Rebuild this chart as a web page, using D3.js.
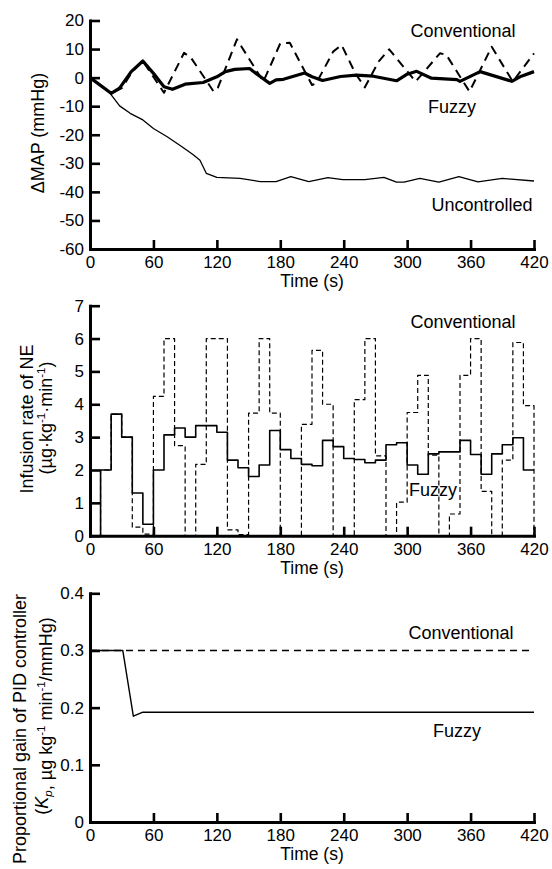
<!DOCTYPE html>
<html>
<head>
<meta charset="utf-8">
<script src="https://cdn.jsdelivr.net/npm/d3@7"></script>
<style>
    body { margin: 0; background: #fff; }
    svg { display: block; }
    text { font-family: "Liberation Sans", Arial, sans-serif; fill: #000; }
</style>
</head>
<body>
<div id="chart"></div>
<script>
/*
Three stacked panels: MAP change, NE infusion rate, proportional gain
*/

// panel 1: change of mean arterial pressure (mmHg)
var mapConvTime = [0, 20, 30, 40, 50, 70, 89, 96, 117, 121, 139, 164, 180, 189, 210, 214,
                   230, 238, 251, 260, 273, 283, 308, 331, 337, 359, 380, 400, 420];
var mapConvValue = [0, -5.5, -3.7, 2.1, 5.8, -5.3, 8.7, 6.7, -4.9, -3.5, 13.4, -1.4, 12, 12.2, -2.6, -2,
                    9.1, 11.4, 1.5, -3.4, 5.6, 9.9, -1.4, 8.5, 8, -4.9, 10.8, -1.4, 8.5];

var mapFuzzyTime = [0, 20, 28, 39, 50, 60, 70, 78, 90, 107, 120, 128, 137, 151, 159, 170, 176,
                    183, 203, 210, 220, 237, 252, 268, 290, 300, 309, 323, 347, 350, 369, 399, 408, 420];
var mapFuzzyValue = [0, -5.5, -3.7, 2.1, 5.8, 1.5, -3.2, -4.1, -2.3, -1.7, 0.3, 2.1, 2.9, 3.2, 0.9, -2.0, -0.8,
                     -0.6, 1.6, 0.3, -1.0, 0.4, 0.9, 0.5, -1.1, 1.2, 2.2, -0.2, -0.7, -1.3, 2.1, -1.3, 0.5, 2.1];

var mapUncTime = [0, 19, 28, 38, 50, 60, 73, 87, 98, 104, 110, 120, 142, 161, 176, 190, 207,
                  225, 239, 260, 278, 290, 297, 312, 330, 349, 367, 390, 420];
var mapUncValue = [0, -5.5, -9.9, -12.5, -14.8, -17.8, -20.7, -24.2, -27.1, -28.9, -33.5, -34.9, -35.3, -36.4, -36.4, -34.7, -36.4,
                   -35, -35.7, -35.7, -34.9, -36.6, -36.6, -35.3, -36.6, -34.7, -36.5, -35.3, -36.2];

// panel 2: infusion rate of NE, one value per 10 s step (last entry closes the step)
var stepTime = [0, 10, 20, 30, 40, 50, 60, 70, 80, 90, 100, 110, 120, 130, 140, 150, 160, 170, 180, 190, 200,
                210, 220, 230, 240, 250, 260, 270, 280, 290, 300, 310, 320, 330, 340, 350, 360, 370, 380, 390, 400, 410, 420];
var infConv = [0, 2.0, 3.7, 3.0, 0.26, 0.05, 4.24, 6.0, 2.74, 0, 2.17, 6.0, 6.0, 0.18, 0.03, 3.73, 6.0, 3.73, 0, 0, 3.39,
               5.64, 4.0, 0, 0, 4.14, 6.0, 2.43, 0, 1.02, 3.75, 4.88, 2.45, 0, 0.66, 4.88, 6.0, 1.35, 0, 2.3, 5.88, 3.96, 0];
var infFuzzy = [0, 2.0, 3.7, 3.0, 1.3, 0.35, 2.0, 3.07, 3.28, 3.0, 3.35, 3.35, 3.15, 2.3, 2.07, 1.8, 2.15, 3.2, 2.62, 2.35, 2.17,
                2.13, 2.9, 2.71, 2.35, 2.32, 2.22, 2.3, 2.77, 2.83, 2.15, 1.87, 2.49, 2.55, 2.55, 2.9, 2.47, 1.87, 2.49, 2.77, 2.98, 2.0, 2.0];

// panel 3: proportional gain Kp
var kpConvTime = [0, 420];
var kpConvValue = [0.3, 0.3];
var kpFuzzyTime = [0, 31, 41, 50, 420];
var kpFuzzyValue = [0.3, 0.3, 0.185, 0.192, 0.192];

var timeTicks = [0, 60, 120, 180, 240, 300, 360, 420];
var mapTicks = [-60, -50, -40, -30, -20, -10, 0, 10, 20];
var infTicks = [0, 1, 2, 3, 4, 5, 6, 7];
var kpTicks = [0, 0.1, 0.2, 0.3, 0.4];

var W = 552, H = 869;
var svg = d3.select('#chart').append('svg')
    .attr('width', W)
    .attr('height', H);

var x = d3.scaleLinear().domain([0, 420]).range([90, 534]);

function zip(ts, vs) {
    return ts.map(function(t, i) { return [t, vs[i]]; });
}

function drawPanel(opt) {
    var y = d3.scaleLinear().domain(opt.domain).range(opt.range);
    var g = svg.append('g');

    // series
    opt.series.forEach(function(s) {
        var line = d3.line()
            .x(function(d) { return x(d[0]); })
            .y(function(d) { return y(d[1]); })
            .curve(s.step ? d3.curveStepAfter : d3.curveLinear);
        g.append('path')
            .attr('d', line(zip(s.t, s.v)))
            .attr('fill', 'none')
            .attr('stroke', '#000')
            .attr('stroke-width', s.width)
            .attr('stroke-linejoin', 'round')
            .attr('stroke-dasharray', s.dash || null);
    });

    // axes (ticks point inward)
    var yAxis = g.append('g')
        .attr('transform', 'translate(90,0)')
        .call(d3.axisLeft(y).tickValues(opt.ticks).tickFormat(opt.format)
            .tickSizeInner(-10).tickSizeOuter(0).tickPadding(6));
    var xAxis = g.append('g')
        .attr('transform', 'translate(0,' + opt.range[0] + ')')
        .call(d3.axisBottom(x).tickValues(timeTicks).tickFormat(d3.format('d'))
            .tickSizeInner(-9).tickSizeOuter(0).tickPadding(7));

    [yAxis, xAxis].forEach(function(a) {
        a.select('.domain').attr('stroke-width', 3).attr('stroke-linecap', 'square');
        a.selectAll('.tick line').attr('stroke-width', 2.6);
        a.selectAll('.tick text').attr('font-size', 17)
            .attr('font-family', '"Liberation Sans", Arial, sans-serif');
    });

    g.append('text')
        .attr('x', 312)
        .attr('y', opt.range[0] + 38)
        .attr('text-anchor', 'middle')
        .attr('font-size', 17.5)
        .text('Time (s)');

    // rotated y label lines
    opt.ylabel.forEach(function(l) {
        var t = g.append('text')
            .attr('transform', 'translate(' + l.x + ',' + l.y + ') rotate(-90)')
            .attr('text-anchor', 'middle')
            .attr('dy', '0.35em')
            .attr('font-size', 18);
        l.parts.forEach(function(p) {
            var ts = t.append('tspan').text(p.s);
            if (p.sup) {
                ts.attr('font-size', 11.5).attr('dy', '-0.6em');
            }
            else if (p.back) {
                ts.attr('dy', '0.38em');
            }
            if (p.italic) {
                ts.attr('font-style', 'italic');
            }
            if (p.sub) {
                ts.attr('font-size', 11.5).attr('dy', '0.3em');
            }
        });
    });

    // series labels
    opt.notes.forEach(function(n) {
        g.append('text')
            .attr('x', n.x)
            .attr('y', n.y)
            .attr('dy', '0.35em')
            .attr('text-anchor', 'middle')
            .attr('font-size', 18)
            .text(n.s);
    });
}

drawPanel({
    domain: [-60, 20], range: [249, 20.5], ticks: mapTicks,
    format: function(d) { return String(d); },
    series: [
        {t: mapUncTime, v: mapUncValue, width: 1.3},
        {t: mapConvTime, v: mapConvValue, width: 2, dash: '9,6'},
        {t: mapFuzzyTime, v: mapFuzzyValue, width: 3.2}
    ],
    ylabel: [
        {x: 38, y: 133, parts: [{s: '\u0394MAP (mmHg)'}]}
    ],
    notes: [
        {x: 463, y: 31, s: 'Conventional'},
        {x: 452, y: 107, s: 'Fuzzy'},
        {x: 482, y: 205, s: 'Uncontrolled'}
    ]
});

drawPanel({
    domain: [0, 7], range: [535.7, 305.7], ticks: infTicks,
    format: function(d) { return String(d); },
    series: [
        {t: stepTime, v: infConv, width: 1.2, dash: '5,3', step: true},
        {t: stepTime, v: infFuzzy, width: 1.6, step: true}
    ],
    ylabel: [
        {x: 27, y: 419, parts: [{s: 'Infusion rate of NE'}]},
        {x: 46, y: 418, parts: [
            {s: '(\u00b5g\u00b7kg'}, {s: '-1', sup: true}, {s: '\u00b7min', back: true},
            {s: '-1', sup: true}, {s: ')', back: true}
        ]}
    ],
    notes: [
        {x: 463, y: 322, s: 'Conventional'},
        {x: 433, y: 490, s: 'Fuzzy'}
    ]
});

drawPanel({
    domain: [0, 0.4], range: [822, 593.3], ticks: kpTicks,
    format: function(d) { return d === 0 ? '0' : d3.format('.1f')(d); },
    series: [
        {t: kpConvTime, v: kpConvValue, width: 1.3, dash: '7,5'},
        {t: kpFuzzyTime, v: kpFuzzyValue, width: 1.4}
    ],
    ylabel: [
        {x: 20, y: 729, parts: [{s: 'Proportional gain of PID controller'}]},
        {x: 42, y: 716, parts: [
            {s: '('}, {s: 'K', italic: true}, {s: 'p', italic: true, sub: true},
            {s: ', \u00b5g kg', back: false}, {s: '-1', sup: true}, {s: ' min', back: true},
            {s: '-1', sup: true}, {s: '/mmHg)', back: true}
        ]}
    ],
    notes: [
        {x: 461, y: 633, s: 'Conventional'},
        {x: 457, y: 731, s: 'Fuzzy'}
    ]
});
</script>
</body>
</html>
